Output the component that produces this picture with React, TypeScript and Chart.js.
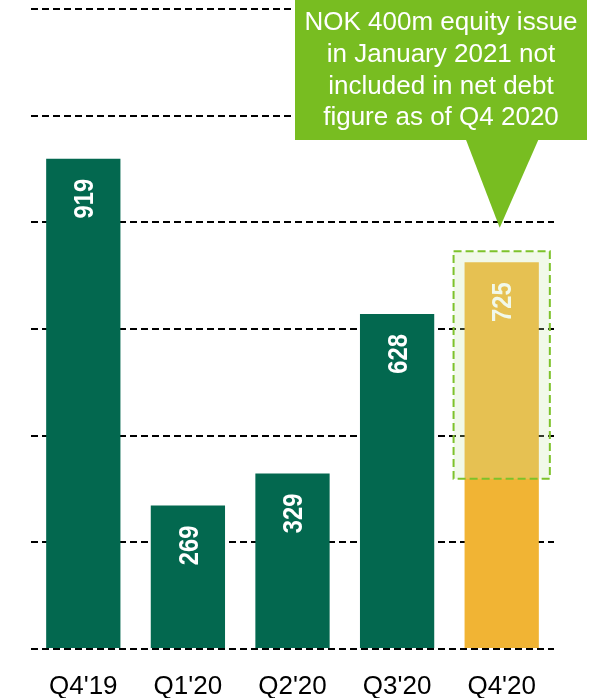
import React, { useEffect, useRef } from "react";
import { Chart, registerables } from "chart.js";

Chart.register(...registerables);

const categories = ["Q4'19", "Q1'20", "Q2'20", "Q3'20", "Q4'20"];
const netDebt = [919, 269, 329, 628, 725];
const barColors = ["#03684F", "#03684F", "#03684F", "#03684F", "#F1B434"];
const yTicksMax = 1200;
const yTickStep = 200;
const equityIssueBottom = 319; // lower edge of the highlighted range on Q4'20
const calloutTip = 790; // value level of the callout arrow tip
const calloutLines = [
  "NOK 400m equity issue",
  "in January 2021 not",
  "included in net debt",
  "figure as of Q4 2020",
];

const FONT = "'Liberation Sans', Arial, sans-serif";

export default function App() {
  const ref = useRef<HTMLCanvasElement | null>(null);

  useEffect(() => {
    const canvas = ref.current;
    if (!canvas) return;

    const overlayPlugin = {
      id: "overlays",
      afterDatasetsDraw(chart: any) {
        const ctx = chart.ctx;
        const meta = chart.getDatasetMeta(0);
        const ys = chart.scales.y;
        meta.data.forEach((bar: any, i: number) => {
          ctx.save();
          ctx.translate(bar.x, bar.y + 20);
          ctx.rotate(-Math.PI / 2);
          ctx.scale(0.88, 1);
          ctx.font = `bold 27px ${FONT}`;
          ctx.fillStyle = "#ffffff";
          ctx.textAlign = "right";
          ctx.textBaseline = "alphabetic";
          ctx.fillText(String(netDebt[i]), 0, 0.36 * 27);
          ctx.restore();
        });
        const last = meta.data[meta.data.length - 1] as any;
        const half = last.width / 2;
        const left = last.x - half - 11;
        const right = last.x + half + 11;
        const top = last.y - 11;
        const bottom = ys.getPixelForValue(equityIssueBottom);
        ctx.save();
        ctx.fillStyle = "rgba(200,230,170,0.25)";
        ctx.fillRect(left, top, right - left, bottom - top);
        ctx.strokeStyle = "#7DC22B";
        ctx.lineWidth = 2;
        ctx.setLineDash([8, 4]);
        ctx.strokeRect(left, top, right - left, bottom - top);
        ctx.restore();
      },
      afterDraw(chart: any) {
        const ctx = chart.ctx;
        const xs = chart.scales.x;
        const ys = chart.scales.y;
        const tipX = xs.getPixelForValue(categories.length - 1) - 2;
        const tipY = ys.getPixelForValue(calloutTip);
        const boxLeft = 295;
        const boxRight = 587;
        const boxTop = -2;
        const boxBottom = 140;
        ctx.save();
        ctx.fillStyle = "#78BD21";
        ctx.fillRect(boxLeft, boxTop, boxRight - boxLeft, boxBottom - boxTop);
        ctx.beginPath();
        ctx.moveTo(tipX - 34, boxBottom - 1);
        ctx.lineTo(tipX + 39, boxBottom - 1);
        ctx.lineTo(tipX, tipY);
        ctx.closePath();
        ctx.fill();
        ctx.fillStyle = "#ffffff";
        ctx.font = `26px ${FONT}`;
        ctx.textAlign = "center";
        ctx.textBaseline = "middle";
        const cx = (boxLeft + boxRight) / 2;
        calloutLines.forEach((line, i) => {
          ctx.fillText(line, cx, 23 + i * 31.7);
        });
        ctx.restore();
      },
    };

    const chart = new Chart(canvas, {
      type: "bar",
      data: {
        labels: categories,
        datasets: [
          {
            data: netDebt,
            backgroundColor: barColors,
            borderWidth: 0,
            categoryPercentage: 1,
            barPercentage: 0.71,
          },
        ],
      },
      options: {
        responsive: false,
        animation: false,
        events: [],
        layout: { padding: { left: 31, right: 46, top: 9, bottom: 0 } },
        plugins: {
          legend: { display: false },
          tooltip: { enabled: false },
        },
        scales: {
          x: {
            grid: { display: false, drawTicks: false },
            border: { display: false },
            ticks: {
              color: "#000000",
              font: { family: FONT, size: 26 },
              padding: 22,
              maxRotation: 0,
            },
            afterFit: (s: any) => {
              s.height = 49;
            },
          },
          y: {
            min: 0,
            max: yTicksMax,
            ticks: { display: false, stepSize: yTickStep },
            border: { display: false, dash: [7, 4] },
            grid: {
              color: "#000000",
              lineWidth: 2,
              drawTicks: false,
            },
            afterFit: (s: any) => {
              s.width = 0;
            },
          },
        },
      },
      plugins: [overlayPlugin],
    } as any);

    return () => chart.destroy();
  }, []);

  return (
    <div style={{ position: "fixed", left: 0, top: 0, width: 600, height: 698, background: "#fff" }}>
      <canvas ref={ref} width={600} height={698} style={{ display: "block" }} />
    </div>
  );
}
